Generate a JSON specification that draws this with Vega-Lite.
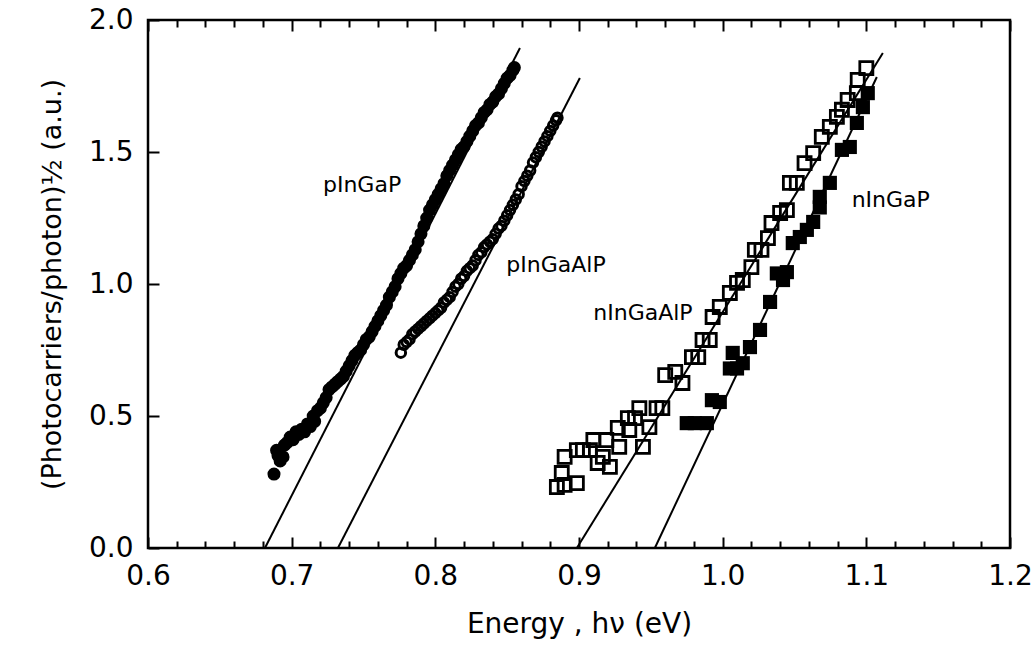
{
  "$schema": "https://vega.github.io/schema/vega-lite/v6.json",
  "width": 862,
  "height": 528,
  "autosize": {"type": "none"},
  "padding": {"left": 148, "top": 20, "right": 26, "bottom": 102},
  "background": "white",
  "config": {
    "view": {"stroke": "black", "strokeWidth": 2.5},
    "font": "DejaVu Sans",
    "axis": {"domain": false, "grid": false, "tickColor": "black", "tickWidth": 2, "labelColor": "black", "titleColor": "black", "labelFont": "DejaVu Sans", "titleFont": "DejaVu Sans", "titleFontWeight": "normal"}
  },
  "datasets": {
    "pgap": [
      {"E":0.6877,"y":0.28},{"E":0.6895,"y":0.37},{"E":0.6905,"y":0.35},{"E":0.692,"y":0.33},{"E":0.694,"y":0.345},{"E":0.695,"y":0.39},{"E":0.697,"y":0.40},{"E":0.699,"y":0.42},{"E":0.701,"y":0.41},{"E":0.703,"y":0.44},{"E":0.705,"y":0.43},{"E":0.707,"y":0.45},{"E":0.709,"y":0.44},{"E":0.711,"y":0.47},{"E":0.713,"y":0.46},{"E":0.715,"y":0.50},{"E":0.716,"y":0.48},{"E":0.718,"y":0.52},{"E":0.720,"y":0.53},{"E":0.722,"y":0.55},{"E":0.724,"y":0.57},{"E":0.726,"y":0.60},{"E":0.728,"y":0.61},{"E":0.730,"y":0.62},{"E":0.732,"y":0.63},{"E":0.734,"y":0.64},{"E":0.736,"y":0.65},{"E":0.738,"y":0.67},{"E":0.740,"y":0.69},{"E":0.742,"y":0.71},{"E":0.744,"y":0.73},{"E":0.746,"y":0.74},{"E":0.748,"y":0.75},{"E":0.750,"y":0.77},{"E":0.752,"y":0.79},{"E":0.754,"y":0.80},{"E":0.756,"y":0.82},{"E":0.758,"y":0.84},{"E":0.760,"y":0.86},{"E":0.762,"y":0.88},{"E":0.764,"y":0.90},{"E":0.766,"y":0.92},{"E":0.768,"y":0.95},{"E":0.770,"y":0.97},{"E":0.772,"y":0.99},{"E":0.774,"y":1.02},{"E":0.776,"y":1.04},{"E":0.778,"y":1.06},{"E":0.780,"y":1.07},{"E":0.782,"y":1.09},{"E":0.784,"y":1.11},{"E":0.786,"y":1.13},{"E":0.788,"y":1.16},{"E":0.790,"y":1.19},{"E":0.792,"y":1.22},{"E":0.794,"y":1.25},{"E":0.796,"y":1.28},{"E":0.798,"y":1.30},{"E":0.800,"y":1.32},{"E":0.802,"y":1.34},{"E":0.804,"y":1.36},{"E":0.806,"y":1.38},{"E":0.808,"y":1.41},{"E":0.810,"y":1.43},{"E":0.812,"y":1.45},{"E":0.814,"y":1.47},{"E":0.816,"y":1.49},{"E":0.818,"y":1.51},{"E":0.820,"y":1.52},{"E":0.822,"y":1.54},{"E":0.824,"y":1.56},{"E":0.826,"y":1.58},{"E":0.828,"y":1.60},{"E":0.830,"y":1.61},{"E":0.832,"y":1.63},{"E":0.834,"y":1.65},{"E":0.836,"y":1.66},{"E":0.838,"y":1.68},{"E":0.840,"y":1.69},{"E":0.842,"y":1.71},{"E":0.844,"y":1.72},{"E":0.846,"y":1.74},{"E":0.848,"y":1.76},{"E":0.850,"y":1.78},{"E":0.852,"y":1.79},{"E":0.854,"y":1.81},{"E":0.855,"y":1.82}
    ],
    "pgaalp": [
      {"E":0.776,"y":0.74},{"E":0.778,"y":0.77},{"E":0.780,"y":0.78},{"E":0.782,"y":0.79},{"E":0.784,"y":0.81},{"E":0.786,"y":0.82},{"E":0.788,"y":0.83},{"E":0.790,"y":0.84},{"E":0.792,"y":0.85},{"E":0.794,"y":0.86},{"E":0.796,"y":0.87},{"E":0.798,"y":0.88},{"E":0.800,"y":0.89},{"E":0.802,"y":0.90},{"E":0.804,"y":0.91},{"E":0.806,"y":0.93},{"E":0.808,"y":0.94},{"E":0.810,"y":0.95},{"E":0.812,"y":0.97},{"E":0.814,"y":0.99},{"E":0.816,"y":1.00},{"E":0.818,"y":1.02},{"E":0.820,"y":1.03},{"E":0.822,"y":1.05},{"E":0.824,"y":1.06},{"E":0.826,"y":1.07},{"E":0.828,"y":1.09},{"E":0.830,"y":1.11},{"E":0.832,"y":1.12},{"E":0.834,"y":1.14},{"E":0.836,"y":1.15},{"E":0.838,"y":1.16},{"E":0.840,"y":1.17},{"E":0.842,"y":1.19},{"E":0.844,"y":1.21},{"E":0.846,"y":1.22},{"E":0.848,"y":1.24},{"E":0.850,"y":1.26},{"E":0.852,"y":1.28},{"E":0.854,"y":1.30},{"E":0.856,"y":1.32},{"E":0.858,"y":1.34},{"E":0.860,"y":1.37},{"E":0.862,"y":1.39},{"E":0.864,"y":1.41},{"E":0.866,"y":1.43},{"E":0.868,"y":1.46},{"E":0.870,"y":1.48},{"E":0.872,"y":1.50},{"E":0.874,"y":1.52},{"E":0.876,"y":1.54},{"E":0.878,"y":1.56},{"E":0.880,"y":1.58},{"E":0.882,"y":1.60},{"E":0.884,"y":1.62},{"E":0.885,"y":1.63}
    ],
    "ngaalp": [
      {"E":0.8846,"y":0.231},{"E":0.890,"y":0.239},{"E":0.8985,"y":0.246},{"E":0.888,"y":0.284},{"E":0.890,"y":0.345},{"E":0.8985,"y":0.371},{"E":0.9027,"y":0.371},{"E":0.9076,"y":0.371},{"E":0.910,"y":0.409},{"E":0.913,"y":0.322},{"E":0.9166,"y":0.345},{"E":0.9215,"y":0.307},{"E":0.919,"y":0.409},{"E":0.927,"y":0.455},{"E":0.928,"y":0.383},{"E":0.935,"y":0.447},{"E":0.934,"y":0.492},{"E":0.942,"y":0.53},{"E":0.939,"y":0.492},{"E":0.9445,"y":0.383},{"E":0.949,"y":0.458},{"E":0.954,"y":0.53},{"E":0.958,"y":0.53},{"E":0.960,"y":0.655},{"E":0.967,"y":0.667},{"E":0.972,"y":0.625},{"E":0.9786,"y":0.723},{"E":0.983,"y":0.723},{"E":0.986,"y":0.788},{"E":0.991,"y":0.788},{"E":0.993,"y":0.875},{"E":0.998,"y":0.913},{"E":1.005,"y":0.966},{"E":1.010,"y":1.004},{"E":1.014,"y":1.015},{"E":1.020,"y":1.064},{"E":1.0224,"y":1.129},{"E":1.027,"y":1.129},{"E":1.0315,"y":1.174},{"E":1.034,"y":1.231},{"E":1.040,"y":1.269},{"E":1.0447,"y":1.28},{"E":1.0468,"y":1.383},{"E":1.0516,"y":1.383},{"E":1.057,"y":1.458},{"E":1.063,"y":1.496},{"E":1.069,"y":1.557},{"E":1.0746,"y":1.595},{"E":1.0795,"y":1.633},{"E":1.083,"y":1.66},{"E":1.087,"y":1.697},{"E":1.0934,"y":1.723},{"E":1.094,"y":1.773},{"E":1.100,"y":1.818}
    ],
    "ngap": [
      {"E":0.975,"y":0.473},{"E":0.9806,"y":0.473},{"E":0.989,"y":0.473},{"E":0.9925,"y":0.56},{"E":0.998,"y":0.553},{"E":1.005,"y":0.68},{"E":1.010,"y":0.68},{"E":1.007,"y":0.739},{"E":1.014,"y":0.70},{"E":1.019,"y":0.761},{"E":1.026,"y":0.826},{"E":1.033,"y":0.932},{"E":1.0377,"y":1.04},{"E":1.042,"y":1.015},{"E":1.0447,"y":1.045},{"E":1.0488,"y":1.155},{"E":1.0537,"y":1.178},{"E":1.0586,"y":1.205},{"E":1.063,"y":1.235},{"E":1.0676,"y":1.29},{"E":1.0676,"y":1.33},{"E":1.0746,"y":1.383},{"E":1.083,"y":1.508},{"E":1.0885,"y":1.519},{"E":1.0934,"y":1.61},{"E":1.0976,"y":1.67},{"E":1.101,"y":1.723}
    ],
    "fits": [
      {"fit":"pInGaP","E":0.6814,"y":0},{"fit":"pInGaP","E":0.8589,"y":1.894},
      {"fit":"pInGaAlP","E":0.7322,"y":0},{"fit":"pInGaAlP","E":0.9006,"y":1.78},
      {"fit":"nInGaAlP","E":0.8985,"y":0},{"fit":"nInGaAlP","E":1.1115,"y":1.875},
      {"fit":"nInGaP","E":0.9528,"y":0},{"fit":"nInGaP","E":1.1073,"y":1.784}
    ],
    "labels": [
      {"name":"pInGaP","E":0.749,"y":1.375},
      {"name":"pInGaAlP","E":0.884,"y":1.072},
      {"name":"nInGaAlP","E":0.9445,"y":0.89},
      {"name":"nInGaP","E":1.117,"y":1.318}
    ]
  },
  "resolve": {"axis": {"x": "independent"}},
  "layer": [
    {
      "data": {"name": "fits"},
      "mark": {"type": "line", "color": "black", "strokeWidth": 2},
      "encoding": {
        "x": {"field": "E", "type": "quantitative", "scale": {"domain": [0.6, 1.2], "nice": false, "zero": false},
          "axis": {"orient": "bottom", "offset": -11, "tickSize": 11, "values": [0.6,0.62,0.64,0.66,0.68,0.7,0.72,0.74,0.76,0.78,0.8,0.82,0.84,0.86,0.88,0.9,0.92,0.94,0.96,0.98,1.0,1.02,1.04,1.06,1.08,1.1,1.12,1.14,1.16,1.18,1.2],
            "labelExpr": "abs(datum.value*10 - round(datum.value*10)) < 0.001 ? format(datum.value, '.1f') : ''",
            "tickDash": {"condition": {"test": "abs(datum.value*10 - round(datum.value*10)) < 0.001", "value": [20, 0]}, "value": [0, 4, 7, 100]},
            "labelPadding": 14, "labelFontSize": 28, "labelFlush": false,
            "title": "Energy , hν  (eV)", "titleFontSize": 28, "titlePadding": 20}},
        "y": {"field": "y", "type": "quantitative", "scale": {"domain": [0, 2.0], "nice": false},
          "axis": {"values": [0, 0.5, 1.0, 1.5, 2.0], "format": ".1f", "offset": -11, "tickSize": 11, "labelPadding": 15, "labelFontSize": 28,
            "title": "(Photocarriers/photon)½ (a.u.)", "titleFontSize": 27, "titlePadding": 22}},
        "detail": {"field": "fit"}
      }
    },
    {
      "data": {"name": "pgap"},
      "mark": {"type": "point", "shape": "circle", "filled": true, "color": "black", "size": 170, "opacity": 1},
      "encoding": {
        "x": {"field": "E", "type": "quantitative", "axis": {"orient": "top", "offset": -11, "tickSize": 11, "values": [0.6,0.62,0.64,0.66,0.68,0.7,0.72,0.74,0.76,0.78,0.8,0.82,0.84,0.86,0.88,0.9,0.92,0.94,0.96,0.98,1.0,1.02,1.04,1.06,1.08,1.1,1.12,1.14,1.16,1.18,1.2], "labels": false, "title": null,
          "tickDash": {"condition": {"test": "abs(datum.value*10 - round(datum.value*10)) < 0.001", "value": [20, 0]}, "value": [0, 4, 7, 100]}}},
        "y": {"field": "y", "type": "quantitative"}
      }
    },
    {
      "data": {"name": "pgaalp"},
      "mark": {"type": "point", "shape": "circle", "filled": false, "color": "black", "strokeWidth": 3, "size": 90, "opacity": 1},
      "encoding": {
        "x": {"field": "E", "type": "quantitative", "axis": null},
        "y": {"field": "y", "type": "quantitative"}
      }
    },
    {
      "data": {"name": "ngaalp"},
      "mark": {"type": "point", "shape": "square", "filled": false, "color": "black", "strokeWidth": 2.8, "size": 170, "opacity": 1},
      "encoding": {
        "x": {"field": "E", "type": "quantitative", "axis": null},
        "y": {"field": "y", "type": "quantitative"}
      }
    },
    {
      "data": {"name": "ngap"},
      "mark": {"type": "point", "shape": "square", "filled": true, "color": "black", "size": 200, "opacity": 1},
      "encoding": {
        "x": {"field": "E", "type": "quantitative", "axis": null},
        "y": {"field": "y", "type": "quantitative"}
      }
    },
    {
      "data": {"name": "labels"},
      "mark": {"type": "text", "fontSize": 22, "color": "black", "align": "center", "baseline": "middle", "font": "DejaVu Sans"},
      "encoding": {
        "x": {"field": "E", "type": "quantitative", "axis": null},
        "y": {"field": "y", "type": "quantitative"},
        "text": {"field": "name"}
      }
    }
  ]
}
